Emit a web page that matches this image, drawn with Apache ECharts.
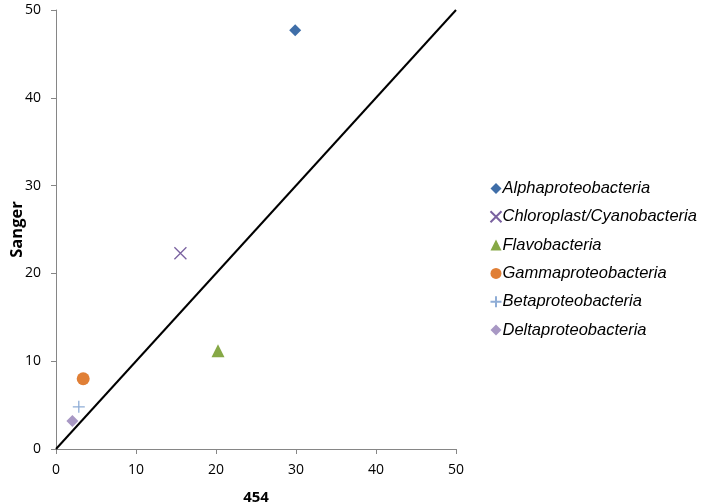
<!DOCTYPE html>
<html style="height: 100%; width:100%">
<head>
    <meta charset="utf-8">
    <script src="https://cdn.jsdelivr.net/npm/echarts@6/dist/echarts.min.js"></script>
</head>
<body style="height: 100%; width: 100%; margin: 0; background:#fff">
<div id="container" style="height: 504px;width:702px"></div>
<script type="text/javascript">
    var names = ["Alphaproteobacteria", "Chloroplast/Cyanobacteria", "Flavobacteria",
                 "Gammaproteobacteria", "Betaproteobacteria", "Deltaproteobacteria"];
    var x454 = [29.9, 15.55, 20.25, 3.4, 2.85, 2.05];
    var ySanger = [47.7, 22.3, 11.2, 8.0, 4.8, 3.2];
    var colors = ["#3f6ea8", "#7a62a0", "#86a846", "#e07f36", "#8fadd6", "#a898c4"];
    var diagonal = [[0, 0], [50, 50]];

    var crossPath = "path://M0,0L10,10M10,0L0,10";
    var plusPath = "path://M5,0L5,10M0,5L10,5";
    var symbols = ["diamond", crossPath, "triangle", "circle", plusPath, "diamond"];
    var sizes = [12, 12, 13, 13, 12, 12];

    var myChart = echarts.init(document.getElementById("container"));

    var series = names.map(function (n, i) {
        var stroke = (i === 1 || i === 4);
        return {
            name: n,
            type: "scatter",
            data: [[x454[i], ySanger[i]]],
            symbol: symbols[i],
            symbolSize: sizes[i],
            itemStyle: stroke ? {color: "none", borderColor: colors[i], borderWidth: 1.3, opacity: 1}
                              : {color: colors[i], opacity: 1},
            z: 3
        };
    });
    series.unshift({
        name: "diag",
        type: "line",
        data: diagonal,
        showSymbol: false,
        symbol: "none",
        lineStyle: {color: "#000", width: 2},
        silent: true,
        z: 2
    });

    var axisCommon = {
        type: "value",
        min: 0, max: 50, interval: 10,
        axisLine: {show: true, lineStyle: {color: "#868686", width: 1}},
        axisTick: {show: true, inside: false, length: 5, lineStyle: {color: "#868686"}},
        splitLine: {show: false},
        axisLabel: {color: "#000", fontSize: 14, fontFamily: "Open Sans"},
        nameTextStyle: {color: "#000", fontSize: 15, fontWeight: "bold", fontFamily: "Open Sans"}
    };

    var option = {
        animation: false,
        backgroundColor: "#fff",
        grid: {left: 56, right: 246, top: 10, bottom: 55, outerBoundsMode: "none"},
        xAxis: Object.assign({}, axisCommon, {
            name: "454", nameLocation: "middle", nameGap: 41,
            axisLabel: Object.assign({}, axisCommon.axisLabel, {margin: 14})
        }),
        yAxis: Object.assign({}, axisCommon, {
            name: "Sanger", nameLocation: "middle", nameGap: 30, nameMoveOverlap: false,
            nameTextStyle: Object.assign({}, axisCommon.nameTextStyle, {fontSize: 16.5}),
            axisLabel: Object.assign({}, axisCommon.axisLabel, {margin: 15})
        }),
        legend: {
            data: names,
            orient: "vertical",
            left: 483,
            top: 175,
            itemWidth: 11,
            itemHeight: 11,
            itemGap: 11.3,
            textStyle: {fontSize: 16.5, fontStyle: "italic", color: "#000",
                        fontFamily: "Liberation Sans", padding: [0, 0, 0, -4]}
        },
        series: series
    };
    myChart.setOption(option);
</script>
</body>
</html>
